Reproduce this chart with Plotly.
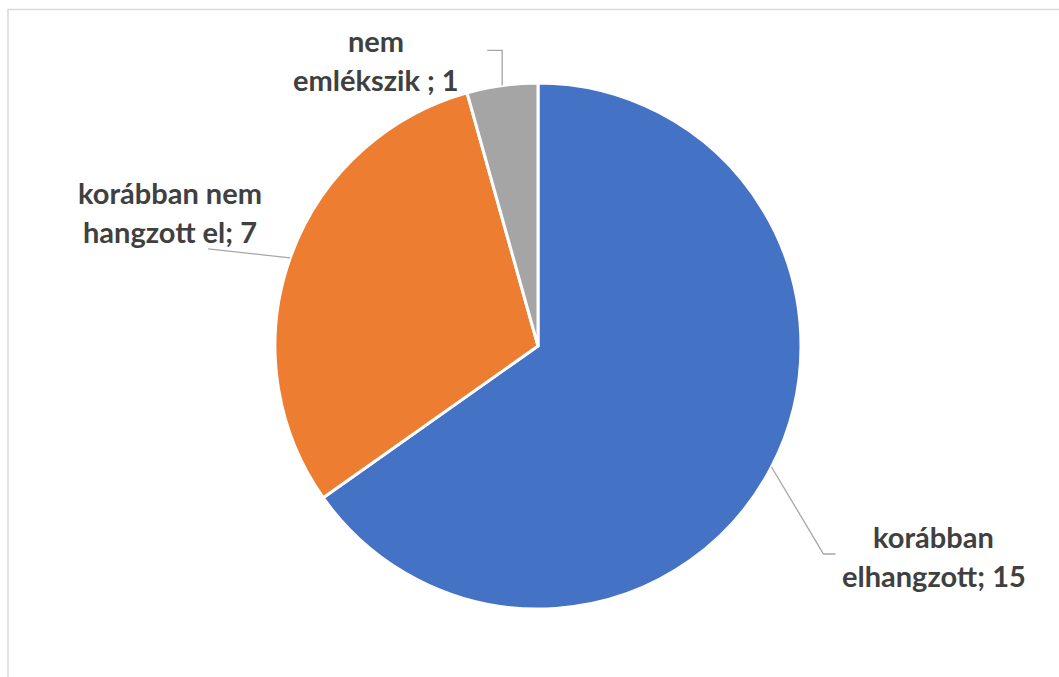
import math
import plotly.graph_objects as go

# ---- data ----
categories = ["korábban elhangzott", "korábban nem hangzott el", "nem emlékszik "]
values = [15, 7, 1]
colors = ["#4472C4", "#ED7D31", "#A5A5A5"]
break_after = [1, 2, 1]  # word index where the label wraps

# ---- layout (pixels) ----
W, H = 1059, 677
L, R_M, T, B = 275, 258, 83, 68
PW, PH = W - L - R_M, H - T - B
CX, CY = L + PW / 2, T + PH / 2
RAD = min(PW, PH) / 2

# label / leader styling offsets (pixels, relative to slice mid-edge point)
leader_elbow = [(52, 87), (-82, -9), (0, -35)]
leader_end = [(64, 87), (-82, -9), (-15, -35)]
label_center = [(162, 89), (-120, -46), (-126, -25)]
LINE_GAP = 39
TEXT_COLOR = "#404040"
FONT = "Lato"
FSIZE = 29


def px(x):
    return (x - L) / PW


def py(y):
    return (T + PH - y) / PH


fig = go.Figure(
    go.Pie(
        labels=categories,
        values=values,
        sort=False,
        direction="clockwise",
        rotation=0,
        marker=dict(colors=colors, line=dict(color="white", width=3)),
        textinfo="none",
        hoverinfo="label+value",
        showlegend=False,
    )
)

total = sum(values)
cum = 0
shapes = []
annotations = []
for i, (cat, val) in enumerate(zip(categories, values)):
    mid = (cum + val / 2) / total * 2 * math.pi
    cum += val
    sx = CX + RAD * math.sin(mid)
    sy = CY - RAD * math.cos(mid)
    ex, ey = sx + leader_elbow[i][0], sy + leader_elbow[i][1]
    fx, fy = sx + leader_end[i][0], sy + leader_end[i][1]
    path = f"M {px(sx)},{py(sy)} L {px(ex)},{py(ey)} L {px(fx)},{py(fy)}"
    shapes.append(dict(type="path", xref="paper", yref="paper", path=path,
                       line=dict(color="#A6A6A6", width=1.3)))
    words = f"{cat}; {val}".split(" ")
    lines = [" ".join(words[:break_after[i]]), " ".join(words[break_after[i]:])]
    lx, ly = sx + label_center[i][0], sy + label_center[i][1]
    n = len(lines)
    for k, line in enumerate(lines):
        yy = ly + (k - (n - 1) / 2) * LINE_GAP
        annotations.append(dict(
            x=px(lx), y=py(yy), xref="paper", yref="paper",
            text=line, showarrow=False, xanchor="center", yanchor="middle",
            font=dict(family=FONT, size=FSIZE, color=TEXT_COLOR, weight=700),
        ))

# chart frame
shapes.append(dict(type="rect", xref="paper", yref="paper",
                   x0=px(8), y0=py(W + 20), x1=px(W + 20), y1=py(9.5),
                   line=dict(color="#D9D9D9", width=1.5)))

fig.update_layout(
    width=W, height=H,
    margin=dict(l=L, r=R_M, t=T, b=B),
    paper_bgcolor="white", plot_bgcolor="white",
    shapes=shapes, annotations=annotations,
)

fig.write_html("out.html")
